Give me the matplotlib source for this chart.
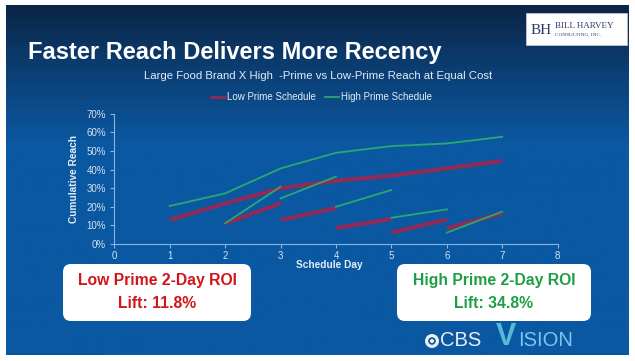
import numpy as np
import matplotlib.pyplot as plt
from matplotlib.lines import Line2D
from matplotlib.patches import FancyBboxPatch, Circle, Rectangle

# data (reach in %)
days = [1, 2, 3, 4, 5, 6, 7]
low_cum = [12.9, 21.8, 29.9, 34.0, 36.7, 40.6, 44.6]
high_cum = [20.4, 27.2, 40.6, 49.0, 52.6, 54.0, 57.6]

# two-day reach segments, starting on each day
seg_start = [2, 3, 4, 5, 6]
low_seg_a = [11.1, 12.9, 8.6, 6.1, 8.4]
low_seg_b = [21.8, 19.3, 13.4, 13.2, 16.5]
high_seg_a = [11.1, 24.5, 20.0, 14.1, 6.1]
high_seg_b = [30.8, 36.2, 29.0, 18.6, 17.4]

yticks = [0, 10, 20, 30, 40, 50, 60, 70]
xticks = [0, 1, 2, 3, 4, 5, 6, 7, 8]

RED = '#8e2b58'
GREEN = '#2aa872'
SANS = ['Liberation Sans', 'DejaVu Sans']

W, H = 635, 361
fig = plt.figure(figsize=(6.35, 3.61), dpi=100)
fig.patch.set_facecolor('white')

# slide background with gradient
bg = fig.add_axes([0, 0, 1, 1], zorder=0)
bg.set_xlim(0, W)
bg.set_ylim(H, 0)
bg.axis('off')
top = np.array([0x0c, 0x24, 0x44]) / 255
bottom = np.array([0x0b, 0x58, 0xa2]) / 255
ys = np.arange(5, 356)
frac = np.clip((ys - 5) / 140.0, 0, 1) ** 0.9
grad = top[None, :] * (1 - frac[:, None]) + bottom[None, :] * frac[:, None]
bg.imshow(grad[:, None, :], extent=(6, 629, 355, 5), aspect='auto', zorder=0)

# titles
bg.text(28, 52, 'Faster Reach Delivers More Recency', color='white',
        fontsize=17, fontweight='bold', family=SANS, va='center', ha='left')
bg.text(318, 76, 'Large Food Brand X High  -Prime vs Low-Prime Reach at Equal Cost',
        color='#e4ecf4', fontsize=8.2, family=SANS, va='center', ha='center')

# Bill Harvey logo
bg.add_patch(Rectangle((526, 13), 101, 32, facecolor='white', edgecolor='#cccccc', lw=0.5, zorder=2))
bg.text(541, 30, 'BH', color='#2c3a6e', fontsize=11, family=['Liberation Serif'],
        va='center', ha='center', zorder=3)
bg.text(555, 26, 'BILL HARVEY', color='#2c3a6e', fontsize=6.5, family=['Liberation Serif'],
        va='center', ha='left', zorder=3)
bg.text(555, 35, 'CONSULTING, INC.', color='#2c3a6e', fontsize=3.8, family=['Liberation Serif'],
        va='center', ha='left', zorder=3)

# ROI boxes
bg.add_patch(FancyBboxPatch((63, 264), 188, 57, boxstyle='round,pad=0,rounding_size=8',
                            facecolor='white', edgecolor='none', zorder=2))
bg.add_patch(FancyBboxPatch((397, 264), 194, 57, boxstyle='round,pad=0,rounding_size=8',
                            facecolor='white', edgecolor='none', zorder=2))
box_kw = dict(fontsize=11.3, fontweight='bold', family=SANS, ha='center', va='center', zorder=3)
bg.text(157, 281, 'Low Prime 2-Day ROI', color='#d0161a', **box_kw)
bg.text(157, 303, 'Lift: 11.8%', color='#d0161a', **box_kw)
bg.text(494, 281, 'High Prime 2-Day ROI', color='#1e9f45', **box_kw)
bg.text(494, 303, 'Lift: 34.8%', color='#1e9f45', **box_kw)

# CBS Vision logo
bg.add_patch(Circle((432, 341), 7, facecolor='#e8eef4', edgecolor='none', zorder=3))
bg.add_patch(Circle((432, 341), 3.8, facecolor='#1a5a9a', edgecolor='none', zorder=3))
bg.add_patch(Circle((432, 341), 2.0, facecolor='#e8eef4', edgecolor='none', zorder=3))
bg.text(440, 341, 'CBS', color='#e8eef4', fontsize=14.5, family=SANS, va='center', ha='left', zorder=3)
bg.text(496, 337, 'V', color='#58b8d8', fontsize=22, fontweight='bold', family=SANS,
        va='center', ha='left', zorder=3)
bg.text(518, 341, 'ISION', color='#7cc4ec', fontsize=14.5, family=SANS, va='center', ha='left', zorder=3)

# chart axes
ax = fig.add_axes([114.3 / W, 1 - 244 / H, (557.7 - 114.3) / W, (244 - 113.7) / H], zorder=1)
ax.patch.set_alpha(0)
ax.set_xlim(0, 8)
ax.set_ylim(0, 70)

ax.plot(days, low_cum, color=RED, lw=3, solid_capstyle='butt')
for d, a, b in zip(seg_start, low_seg_a, low_seg_b):
    ax.plot([d, d + 1], [a, b], color=RED, lw=3, solid_capstyle='butt')
ax.plot(days, high_cum, color=GREEN, lw=1.3)
for d, a, b in zip(seg_start, high_seg_a, high_seg_b):
    ax.plot([d, d + 1], [a, b], color=GREEN, lw=1.3)

for s in ['top', 'right']:
    ax.spines[s].set_visible(False)
for s in ['left', 'bottom']:
    ax.spines[s].set_color('#8ab4e0')
    ax.spines[s].set_linewidth(0.8)

ax.set_yticks(yticks)
ax.set_yticklabels([f'{v}%' for v in yticks])
ax.set_xticks(xticks)
ax.tick_params(colors='#8ab4e0', labelcolor='#d4e2f0', labelsize=7, length=3, width=0.8)
ax.tick_params(axis='x', pad=2)
ax.tick_params(axis='y', pad=3)
for lbl in ax.get_xticklabels() + ax.get_yticklabels():
    lbl.set_family(SANS)

ax.set_ylabel('Cumulative Reach', color='#e4ecf4', fontsize=7.3, fontweight='bold',
              family=SANS, labelpad=5)
fig.text(329 / W, 1 - 265 / H, 'Schedule Day', color='#e4ecf4', fontsize=7.3,
         fontweight='bold', family=SANS, ha='center', va='center', zorder=5)

handles = [Line2D([], [], color=RED, lw=2), Line2D([], [], color=GREEN, lw=1.3)]
fig.legend(handles, ['Low Prime Schedule', 'High Prime Schedule'], loc='center',
           bbox_to_anchor=(321.5 / W, 1 - 97 / H), ncol=2, frameon=False,
           labelcolor='#e4ecf4', handlelength=1.4, handletextpad=0.2,
           columnspacing=1.0, prop={'family': SANS, 'size': 7})

fig.savefig('out.png', dpi=100, facecolor='white')
